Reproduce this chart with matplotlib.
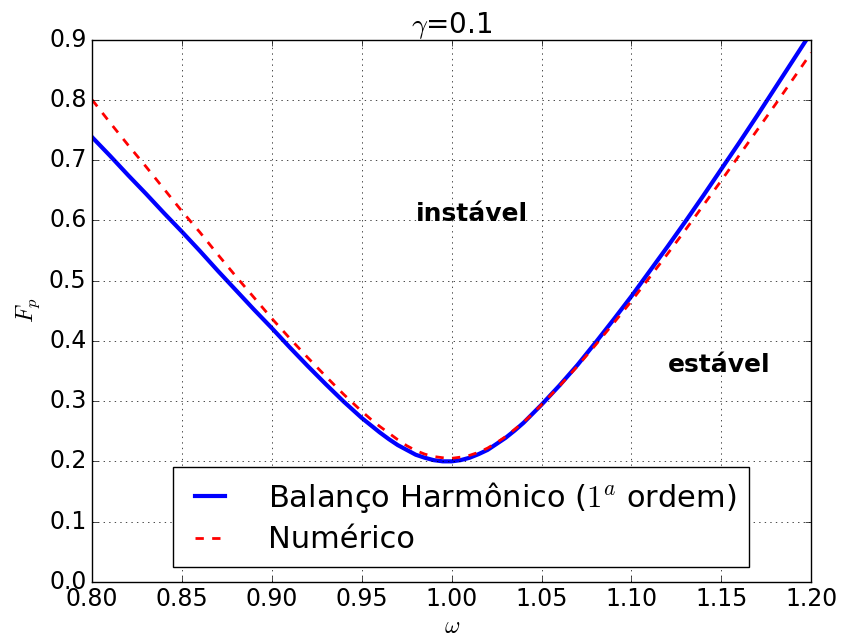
import matplotlib
matplotlib.use('Agg')
import matplotlib.pyplot as plt

# frequencia
omega = [0.80, 0.81, 0.82, 0.83, 0.84, 0.85, 0.86, 0.87, 0.88, 0.89,
         0.90, 0.91, 0.92, 0.93, 0.94, 0.95, 0.955, 0.96, 0.965, 0.97,
         0.975, 0.98, 0.985, 0.99, 0.995, 1.00, 1.005, 1.01, 1.015, 1.02,
         1.025, 1.03, 1.035, 1.04, 1.045, 1.05, 1.06, 1.07, 1.08, 1.09,
         1.10, 1.11, 1.12, 1.13, 1.14, 1.15, 1.16, 1.17, 1.18, 1.19, 1.20]

# balanco harmonico (1a ordem)
fp_bh = [0.738, 0.707, 0.675, 0.644, 0.612, 0.581, 0.549, 0.516, 0.484, 0.452,
         0.421, 0.389, 0.358, 0.328, 0.299, 0.272, 0.260, 0.248, 0.237, 0.227,
         0.219, 0.211, 0.206, 0.202, 0.200, 0.200, 0.202, 0.206, 0.212, 0.219,
         0.229, 0.239, 0.251, 0.264, 0.279, 0.294, 0.326, 0.360, 0.397, 0.435,
         0.474, 0.515, 0.556, 0.598, 0.641, 0.685, 0.729, 0.774, 0.820, 0.866, 0.912]

# numerico
fp_num = [0.800, 0.762, 0.725, 0.689, 0.652, 0.615, 0.580, 0.543, 0.507, 0.472,
          0.437, 0.404, 0.372, 0.341, 0.311, 0.283, 0.270, 0.258, 0.247, 0.236,
          0.226, 0.218, 0.212, 0.208, 0.206, 0.205, 0.207, 0.210, 0.215, 0.222,
          0.231, 0.241, 0.253, 0.265, 0.279, 0.294, 0.325, 0.358, 0.393, 0.429,
          0.466, 0.505, 0.544, 0.584, 0.625, 0.666, 0.708, 0.750, 0.792, 0.835, 0.878]

xticks = [0.80, 0.85, 0.90, 0.95, 1.00, 1.05, 1.10, 1.15, 1.20]
yticks = [0.0, 0.1, 0.2, 0.3, 0.4, 0.5, 0.6, 0.7, 0.8, 0.9]

plt.style.use('classic')
fig = plt.figure(figsize=(8.45, 6.38), dpi=100, facecolor='white')
ax = fig.add_axes([0.109, 0.088, 0.851, 0.85])

ax.plot(omega, fp_bh, 'b-', lw=3, label=u'Balanço Harmônico ($1^a$ ordem)')
ax.plot(omega, fp_num, 'r--', lw=2, label=u'Numérico')

ax.set_xlim(0.8, 1.2)
ax.set_ylim(0.0, 0.9)
ax.set_xticks(xticks)
ax.set_yticks(yticks)
ax.set_xticklabels(['%.2f' % v for v in xticks], fontsize=17)
ax.set_yticklabels(['%.1f' % v for v in yticks], fontsize=17)
ax.grid(True, color='k', linestyle=':')

ax.set_title(r'$\gamma$=0.1', fontsize=20)
ax.set_xlabel(r'$\omega$', fontsize=17, labelpad=2)
ax.set_ylabel(r'$F_p$', fontsize=17)

ax.text(0.98, 0.61, u'instável', fontsize=18, fontweight='bold', va='center')
ax.text(1.12, 0.36, u'estável', fontsize=18, fontweight='bold', va='center')

leg = ax.legend(loc='lower center', bbox_to_anchor=(0.513, 0.0), fontsize=22,
                handlelength=1.6, handletextpad=1.1, labelspacing=0.35)

plt.savefig('out.png', dpi=100, facecolor='white')
